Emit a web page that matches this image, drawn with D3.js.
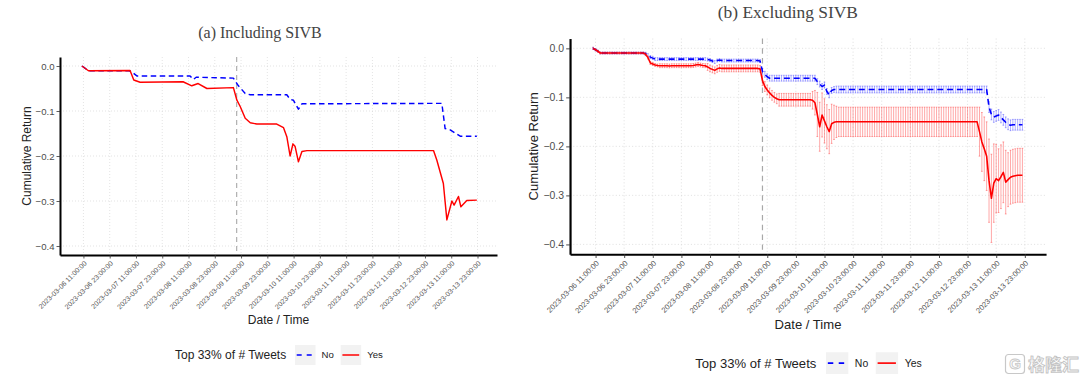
<!DOCTYPE html>
<html><head><meta charset="utf-8">
<script src="https://cdn.jsdelivr.net/npm/d3@7"></script>
<style>body{margin:0;background:#fff}svg{display:block}</style>
</head><body>
<svg id="c" width="1080" height="377"></svg>
<script>
// ---------- DATA ----------
const tickLabels = ["2023-03-06 11:00:00","2023-03-06 23:00:00","2023-03-07 11:00:00","2023-03-07 23:00:00",
  "2023-03-08 11:00:00","2023-03-08 23:00:00","2023-03-09 11:00:00","2023-03-09 23:00:00",
  "2023-03-10 11:00:00","2023-03-10 23:00:00","2023-03-11 11:00:00","2023-03-11 23:00:00",
  "2023-03-12 11:00:00","2023-03-12 23:00:00","2023-03-13 11:00:00","2023-03-13 23:00:00"];
const yTicks = [0, -0.1, -0.2, -0.3, -0.4];
const yTickLabels = ["0.0", "\u22120.1", "\u22120.2", "\u22120.3", "\u22120.4"];
const seriesNames = ["No", "Yes"];
const eventHour = 81; // hours after 2023-03-06 00:00

// Panel (a) Including SIVB: readings (hours after 2023-03-06 00:00, value)
const aYesHours = [10.3,13.3,32.3,34.0,36.9,56.5,60.5,63.4,67.4,79.5,81.1,82.6,84.9,87.2,90.2,99.3,102.4,103.9,105.4,106.7,
  107.7,109.2,110.8,113.1,170.9,172.4,175.4,177.0,179.3,180.3,182.3,183.4,186.1,190.7];
const aYesValues = [0,-0.0105,-0.010,-0.031,-0.036,-0.035,-0.044,-0.039,-0.050,-0.048,-0.076,-0.090,-0.116,-0.126,-0.129,-0.129,-0.137,-0.157,-0.200,-0.173,
  -0.179,-0.213,-0.190,-0.188,-0.188,-0.209,-0.261,-0.342,-0.300,-0.309,-0.290,-0.313,-0.299,-0.298];
const aNoHours = [10.3,13.3,31.8,33.1,35.4,59.7,61.2,62.5,79.5,81.8,84.9,87.2,103.9,105.4,106.9,109.2,110.8,174.7,176.2,178.5,183.1,190.7];
const aNoValues = [0,-0.0105,-0.0105,-0.013,-0.022,-0.022,-0.030,-0.025,-0.027,-0.044,-0.061,-0.064,-0.064,-0.074,-0.076,-0.096,-0.084,-0.083,-0.139,-0.142,-0.156,-0.156];

// Panel (b) Excluding SIVB: hourly values from hour 10 to hour 190
const bStartHour = 10;
const bYes = [
  0,-0.003,-0.006,-0.0096,-0.0096,-0.0096,-0.0096,-0.0096,-0.0096,-0.0096,
  -0.0096,-0.0096,-0.0096,-0.0096,-0.0096,-0.0096,-0.0096,-0.0096,-0.0096,-0.0096,
  -0.0096,-0.0096,-0.012,-0.019,-0.030,-0.032,-0.034,-0.035,-0.0355,-0.0355,
  -0.0355,-0.0355,-0.036,-0.0355,-0.0355,-0.0355,-0.0355,-0.0355,-0.0355,-0.0355,
  -0.0355,-0.0355,-0.035,-0.034,-0.033,-0.034,-0.035,-0.0355,-0.038,-0.041,
  -0.043,-0.045,-0.042,-0.040,-0.041,-0.041,-0.041,-0.041,-0.041,-0.041,
  -0.041,-0.041,-0.041,-0.041,-0.041,-0.041,-0.041,-0.041,-0.041,-0.041,
  -0.042,-0.066,-0.078,-0.085,-0.091,-0.096,-0.100,-0.103,-0.105,-0.105,
  -0.105,-0.105,-0.105,-0.105,-0.105,-0.105,-0.105,-0.105,-0.105,-0.105,
  -0.105,-0.105,-0.106,-0.111,-0.135,-0.160,-0.136,-0.148,-0.160,-0.170,
  -0.154,-0.151,-0.150,-0.150,-0.150,-0.150,-0.150,-0.150,-0.150,-0.150,
  -0.150,-0.150,-0.150,-0.150,-0.150,-0.150,-0.150,-0.150,-0.150,-0.150,
  -0.150,-0.150,-0.150,-0.150,-0.150,-0.150,-0.150,-0.150,-0.150,-0.150,
  -0.150,-0.150,-0.150,-0.150,-0.150,-0.150,-0.150,-0.150,-0.150,-0.150,
  -0.150,-0.150,-0.150,-0.150,-0.150,-0.150,-0.150,-0.150,-0.150,-0.150,
  -0.150,-0.150,-0.150,-0.150,-0.150,-0.150,-0.150,-0.150,-0.150,-0.150,
  -0.150,-0.150,-0.170,-0.191,-0.205,-0.220,-0.270,-0.306,-0.275,-0.266,
  -0.270,-0.262,-0.253,-0.273,-0.268,-0.263,-0.261,-0.260,-0.259,-0.259,
  -0.259];
const bYesErr = [
  0.002,0.002,0.002,0.002,0.002,0.002,0.002,0.002,0.002,0.002,
  0.002,0.002,0.002,0.002,0.002,0.002,0.002,0.002,0.002,0.002,
  0.002,0.002,0.003,0.003,0.003,0.003,0.003,0.003,0.004,0.004,
  0.004,0.004,0.004,0.004,0.004,0.004,0.004,0.004,0.004,0.004,
  0.004,0.004,0.004,0.004,0.004,0.004,0.004,0.004,0.007,0.007,
  0.007,0.007,0.007,0.007,0.007,0.007,0.007,0.007,0.007,0.007,
  0.007,0.007,0.007,0.007,0.007,0.007,0.007,0.007,0.007,0.007,
  0.007,0.010,0.010,0.010,0.010,0.010,0.010,0.010,0.013,0.013,
  0.013,0.013,0.013,0.013,0.013,0.013,0.013,0.013,0.013,0.013,
  0.013,0.013,0.018,0.025,0.045,0.050,0.045,0.045,0.045,0.045,
  0.040,0.035,0.032,0.030,0.030,0.030,0.030,0.030,0.030,0.030,
  0.030,0.030,0.030,0.030,0.030,0.030,0.030,0.030,0.030,0.030,
  0.030,0.030,0.030,0.030,0.030,0.030,0.030,0.030,0.030,0.030,
  0.030,0.030,0.030,0.030,0.030,0.030,0.030,0.030,0.030,0.030,
  0.030,0.030,0.030,0.030,0.030,0.030,0.030,0.030,0.030,0.030,
  0.030,0.030,0.030,0.030,0.030,0.030,0.030,0.030,0.030,0.030,
  0.030,0.030,0.050,0.060,0.065,0.070,0.085,0.090,0.080,0.070,
  0.065,0.065,0.062,0.065,0.055,0.055,0.055,0.055,0.055,0.055,
  0.055];
const bNo = [
  0,-0.003,-0.006,-0.0096,-0.0096,-0.0096,-0.0096,-0.0096,-0.0096,-0.0096,
  -0.0096,-0.0096,-0.0096,-0.0096,-0.0096,-0.0096,-0.0096,-0.0096,-0.0096,-0.0096,
  -0.0096,-0.0096,-0.011,-0.014,-0.018,-0.020,-0.022,-0.022,-0.022,-0.022,
  -0.022,-0.022,-0.022,-0.022,-0.022,-0.022,-0.022,-0.022,-0.022,-0.022,
  -0.022,-0.022,-0.022,-0.022,-0.022,-0.022,-0.022,-0.022,-0.023,-0.024,
  -0.026,-0.028,-0.025,-0.024,-0.025,-0.025,-0.025,-0.025,-0.025,-0.025,
  -0.025,-0.025,-0.025,-0.025,-0.025,-0.025,-0.025,-0.025,-0.025,-0.025,
  -0.026,-0.047,-0.053,-0.058,-0.061,-0.061,-0.061,-0.061,-0.061,-0.061,
  -0.061,-0.061,-0.061,-0.061,-0.061,-0.061,-0.061,-0.061,-0.061,-0.061,
  -0.061,-0.061,-0.061,-0.061,-0.068,-0.073,-0.078,-0.075,-0.088,-0.095,
  -0.086,-0.084,-0.084,-0.084,-0.084,-0.084,-0.084,-0.084,-0.084,-0.084,
  -0.084,-0.084,-0.084,-0.084,-0.084,-0.084,-0.084,-0.084,-0.084,-0.084,
  -0.084,-0.084,-0.084,-0.084,-0.084,-0.084,-0.084,-0.084,-0.084,-0.084,
  -0.084,-0.084,-0.084,-0.084,-0.084,-0.084,-0.084,-0.084,-0.084,-0.084,
  -0.084,-0.084,-0.084,-0.084,-0.084,-0.084,-0.084,-0.084,-0.084,-0.084,
  -0.084,-0.084,-0.084,-0.084,-0.084,-0.084,-0.084,-0.084,-0.084,-0.084,
  -0.084,-0.084,-0.084,-0.084,-0.084,-0.084,-0.120,-0.135,-0.140,-0.138,
  -0.136,-0.141,-0.146,-0.151,-0.155,-0.157,-0.156,-0.156,-0.156,-0.156,
  -0.156];
const bNoErr = [
  0.002,0.002,0.002,0.002,0.002,0.002,0.002,0.002,0.002,0.002,
  0.002,0.002,0.002,0.002,0.002,0.002,0.002,0.002,0.002,0.002,
  0.002,0.002,0.003,0.003,0.003,0.003,0.003,0.003,0.003,0.003,
  0.003,0.003,0.003,0.003,0.003,0.003,0.003,0.003,0.003,0.003,
  0.003,0.003,0.003,0.003,0.003,0.003,0.003,0.003,0.003,0.003,
  0.003,0.003,0.003,0.003,0.003,0.003,0.003,0.003,0.003,0.003,
  0.003,0.003,0.003,0.003,0.003,0.003,0.003,0.003,0.003,0.003,
  0.003,0.006,0.006,0.006,0.006,0.006,0.006,0.006,0.006,0.006,
  0.006,0.006,0.006,0.006,0.006,0.006,0.006,0.006,0.006,0.006,
  0.006,0.006,0.006,0.006,0.006,0.006,0.006,0.006,0.006,0.006,
  0.006,0.006,0.007,0.007,0.007,0.007,0.007,0.007,0.007,0.007,
  0.007,0.007,0.007,0.007,0.007,0.007,0.007,0.007,0.007,0.007,
  0.007,0.007,0.007,0.007,0.007,0.007,0.007,0.007,0.007,0.007,
  0.007,0.007,0.007,0.007,0.007,0.007,0.007,0.007,0.007,0.007,
  0.007,0.007,0.007,0.007,0.007,0.007,0.007,0.007,0.007,0.007,
  0.007,0.007,0.007,0.007,0.007,0.007,0.007,0.007,0.007,0.007,
  0.007,0.007,0.007,0.007,0.007,0.007,0.011,0.011,0.011,0.011,
  0.011,0.011,0.011,0.011,0.011,0.011,0.011,0.011,0.011,0.011,
  0.011];

// ---------- DRAWING ----------
const SANS = "'Liberation Sans', Arial, sans-serif";
const SERIF = "'Liberation Serif', 'DejaVu Serif', serif";
const base = Date.UTC(2023, 2, 6, 0, 0, 0);
const toDate = h => new Date(base + h * 3600e3);
const parseT = d3.utcParse("%Y-%m-%d %H:%M:%S");
const svg = d3.select("#c");
const colors = {No: "#0000ff", Yes: "#ff0000"};

function drawPanel(tx, ty, k, cfg) {
  const W = 437, H = 198;
  const g = svg.append("g").attr("transform", `translate(${tx},${ty}) scale(${k})`);
  const x = d3.scaleUtc().domain([toDate(0.3), toDate(199.9)]).range([0, W]);
  const y = d3.scaleLinear().domain([-0.42, 0.02]).range([H, 0]);
  const tickDates = tickLabels.map(parseT);

  // grid
  const grid = g.append("g").attr("stroke", "#d2d2d2").attr("stroke-width", 0.6).attr("stroke-dasharray", "1,2");
  grid.selectAll(".gv").data(tickDates).join("line").attr("class", "gv")
    .attr("x1", d => x(d)).attr("x2", d => x(d)).attr("y1", 0).attr("y2", H);
  grid.selectAll(".gh").data(yTicks).join("line").attr("class", "gh")
    .attr("x1", 0).attr("x2", W).attr("y1", d => y(d)).attr("y2", d => y(d));

  // event line
  g.append("line").attr("x1", x(toDate(eventHour))).attr("x2", x(toDate(eventHour)))
    .attr("y1", 0).attr("y2", H).attr("stroke", "#a8a8a8").attr("stroke-width", 1.1).attr("stroke-dasharray", "5,4");

  // error bars
  if (cfg.err) {
    cfg.series.forEach(s => {
      const pts = s.values.map((v, i) => ({t: toDate(cfg.start + i), v, e: s.err[i]}));
      const eg = g.append("g").attr("stroke", s.name === "Yes" ? "rgba(255,0,0,0.45)" : "rgba(0,0,255,0.42)").attr("stroke-width", 0.7);
      eg.selectAll(".eb").data(pts).join("line").attr("class", "eb")
        .attr("x1", d => x(d.t)).attr("x2", d => x(d.t)).attr("y1", d => y(d.v + d.e)).attr("y2", d => y(d.v - d.e));
      eg.selectAll(".ct").data(pts).join("line").attr("class", "ct")
        .attr("x1", d => x(d.t) - 0.8).attr("x2", d => x(d.t) + 0.8).attr("y1", d => y(d.v + d.e)).attr("y2", d => y(d.v + d.e));
      eg.selectAll(".cb").data(pts).join("line").attr("class", "cb")
        .attr("x1", d => x(d.t) - 0.8).attr("x2", d => x(d.t) + 0.8).attr("y1", d => y(d.v - d.e)).attr("y2", d => y(d.v - d.e));
    });
  }

  // lines
  const line = d3.line().x(d => x(d.t)).y(d => y(d.v));
  cfg.series.forEach(s => {
    const pts = s.hours ? s.hours.map((h, i) => ({t: toDate(h), v: s.values[i]}))
                        : s.values.map((v, i) => ({t: toDate(cfg.start + i), v}));
    g.append("path").datum(pts).attr("d", line).attr("fill", "none")
      .attr("stroke", colors[s.name]).attr("stroke-width", 1.45)
      .attr("stroke-linejoin", "round")
      .attr("stroke-dasharray", s.name === "No" ? "5.5,3.5" : null);
  });

  // axes
  const xAxis = g.append("g").attr("transform", `translate(0,${H})`)
    .call(d3.axisBottom(x).tickValues(tickDates).tickFormat((d, i) => tickLabels[i]).tickSize(3.5).tickSizeOuter(0));
  xAxis.select(".domain").attr("stroke", "#000").attr("stroke-width", 2);
  xAxis.selectAll(".tick line").attr("stroke", "#333").attr("stroke-width", 0.8);
  xAxis.selectAll(".tick text").attr("x", 0).attr("y", 0).attr("dy", "0.35em")
    .attr("transform", "translate(1.5,7) rotate(-45)").attr("text-anchor", "end")
    .attr("font-family", SANS).attr("font-size", 7).attr("fill", "#555");

  const yAxis = g.append("g")
    .call(d3.axisLeft(y).tickValues(yTicks).tickFormat((d, i) => yTickLabels[i]).tickSize(3.5).tickSizeOuter(0).tickPadding(2));
  yAxis.select(".domain").attr("stroke", "#000").attr("stroke-width", 2);
  yAxis.selectAll(".tick line").attr("stroke", "#333").attr("stroke-width", 0.8);
  yAxis.selectAll(".tick text").attr("font-family", SANS).attr("font-size", 9.6).attr("fill", "#4d4d4d");

  // axis titles
  g.append("text").attr("x", W / 2).attr("y", 267).attr("text-anchor", "middle")
    .attr("font-family", SANS).attr("font-size", 12).attr("fill", "#222").text("Date / Time");
  g.append("text").attr("transform", `translate(-29,${H / 2}) rotate(-90)`).attr("text-anchor", "middle")
    .attr("font-family", SANS).attr("font-size", 12).attr("fill", "#222").text("Cumulative Return");

  // title
  g.append("text").attr("x", W / 2 - 18.5).attr("y", -19).attr("text-anchor", "middle")
    .attr("font-family", SERIF).attr("font-size", 16).attr("fill", "#444").text(cfg.title);

  // legend
  const lg = g.append("g").attr("transform", "translate(0,298)");
  lg.append("text").attr("x", 115).attr("y", 0).attr("dy", "0.35em")
    .attr("font-family", SANS).attr("font-size", 12).attr("fill", "#222").text("Top 33% of # Tweets");
  const keyX = [235, 280.7];
  seriesNames.forEach((n, i) => {
    lg.append("rect").attr("x", keyX[i]).attr("y", -10).attr("width", 20.5).attr("height", 20).attr("fill", "#f2f2f2");
    lg.append("line").attr("x1", keyX[i] + 1.7).attr("x2", keyX[i] + 18.5).attr("y1", 0).attr("y2", 0)
      .attr("stroke", colors[n]).attr("stroke-width", 1.5)
      .attr("stroke-dasharray", n === "No" ? "5,5" : null);
    lg.append("text").attr("x", keyX[i] + 26.5).attr("y", 0).attr("dy", "0.35em")
      .attr("font-family", SANS).attr("font-size", 9.6).attr("fill", "#222").text(n);
  });
}

drawPanel(60, 57, 1, {
  title: "(a) Including SIVB", err: false,
  series: [{name: "No", hours: aNoHours, values: aNoValues}, {name: "Yes", hours: aYesHours, values: aYesValues}]
});
drawPanel(570, 38.5, 1.0893, {
  title: "(b) Excluding SIVB", err: true, start: bStartHour,
  series: [{name: "No", values: bNo, err: bNoErr}, {name: "Yes", values: bYes, err: bYesErr}]
});

// watermark
const wm = svg.append("g").attr("transform", "translate(1005,354)");
wm.append("rect").attr("x", 0.5).attr("y", 0.5).attr("width", 19).attr("height", 19).attr("rx", 3)
  .attr("fill", "#fff").attr("stroke", "#c8c8c8").attr("stroke-width", 1.2);
wm.append("text").attr("x", 10).attr("y", 15).attr("text-anchor", "middle").attr("font-family", SANS)
  .attr("font-weight", "bold").attr("font-size", 15).attr("fill", "#fff").attr("stroke", "#c8c8c8").attr("stroke-width", 0.9).text("G");
wm.append("text").attr("x", 23).attr("y", 16.5).attr("font-family", "'Noto Sans CJK SC', sans-serif")
  .attr("font-weight", "bold").attr("font-size", 17).attr("fill", "#fff").attr("stroke", "#c4c4c4").attr("stroke-width", 0.9).text("格隆汇");
</script>
</body></html>
